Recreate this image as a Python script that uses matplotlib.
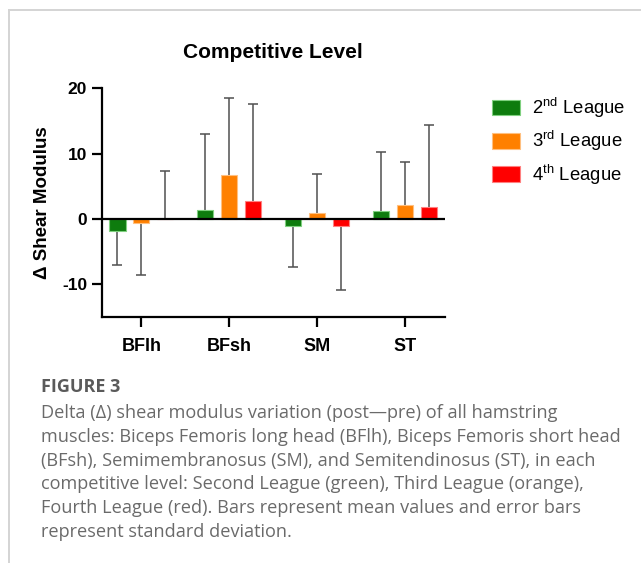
import numpy as np
import matplotlib
matplotlib.use('Agg')
import matplotlib.pyplot as plt
from matplotlib.lines import Line2D

plt.rcParams['font.family'] = ['Liberation Sans', 'DejaVu Sans']
plt.rcParams['mathtext.fontset'] = 'custom'
plt.rcParams['mathtext.rm'] = 'Liberation Sans'
plt.rcParams['axes.unicode_minus'] = False

muscles = ['BFlh', 'BFsh', 'SM', 'ST']
leagues = [r'2$^{\mathrm{nd}}$ League', r'3$^{\mathrm{rd}}$ League', r'4$^{\mathrm{th}}$ League']
colors = ['#0e7c0e', '#ff8000', '#ff0000']
edges = ['#7fd07f', '#ffc080', '#ff8080']

# mean delta shear modulus per muscle, one list per league
mean_2nd = [-1.8, 1.4, -1.0, 1.2]
mean_3rd = [-0.6, 6.8, 0.9, 2.2]
mean_4th = [0.05, 2.8, -1.0, 1.9]
# standard deviations
sd_2nd = [5.2, 11.6, 6.4, 9.0]
sd_3rd = [7.9, 11.7, 6.0, 6.5]
sd_4th = [7.25, 14.8, 9.8, 12.5]

means = [mean_2nd, mean_3rd, mean_4th]
sds = [sd_2nd, sd_3rd, sd_4th]

caption = [
    "Delta (\u0394) shear modulus variation (post\u2014pre) of all hamstring",
    "muscles: Biceps Femoris long head (BFlh), Biceps Femoris short head",
    "(BFsh), Semimembranosus (SM), and Semitendinosus (ST), in each",
    "competitive level: Second League (green), Third League (orange),",
    "Fourth League (red). Bars represent mean values and error bars",
    "represent standard deviation.",
]

fig = plt.figure(figsize=(6.41, 5.63), dpi=100)
ax = fig.add_axes([0.1587, 0.437, 0.5355, 0.406])

x = np.arange(len(muscles))
width = 0.185
offsets = [-0.272, 0.0, 0.272]
for i in range(3):
    m = np.array(means[i])
    s = np.array(sds[i])
    ends = m + np.sign(m) * s
    ax.bar(x + offsets[i], m, width, color=colors[i], edgecolor=edges[i],
           lw=0.8, label=leagues[i], zorder=3)
    # one-sided error bars (away from zero)
    ax.vlines(x + offsets[i], m, ends, color='#505050', lw=1.1, zorder=2)
    ax.plot(x + offsets[i], ends, ls='none', marker='_', ms=7, mew=1.1,
            color='#505050', zorder=2)

ax.axhline(0, color='black', lw=1.6, zorder=4)
ax.set_xlim(-0.45, 3.455)
ax.set_ylim(-15, 20)
ax.set_yticks([-10, 0, 10, 20])
ax.set_xticks(x)
ax.set_xticklabels(muscles, fontsize=13, fontweight='bold')
for t in ax.get_yticklabels():
    t.set_fontweight('bold')
    t.set_fontsize(12.5)
ax.spines['top'].set_visible(False)
ax.spines['right'].set_visible(False)
ax.spines['left'].set_bounds(-15, 20)
for sp in ['left', 'bottom']:
    ax.spines[sp].set_linewidth(1.6)
ax.tick_params(axis='both', width=1.6, length=7)
ax.tick_params(axis='x', pad=8)
ax.set_ylabel('\u0394 Shear Modulus', fontsize=13.5, fontweight='bold', labelpad=8)
ax.set_title('Competitive Level', fontsize=15, fontweight='bold', pad=22)

ax.legend(loc='upper left', bbox_to_anchor=(1.115, 1.0), frameon=False,
          fontsize=13.3, handlelength=1.5, handleheight=0.92, handletextpad=0.65,
          labelspacing=0.5, borderaxespad=0)

# figure frame
fig.add_artist(Line2D([9 / 641, 1], [1 - 10 / 563] * 2, color='#d4d4d4', lw=1.4))
fig.add_artist(Line2D([9 / 641] * 2, [0, 1 - 10 / 563], color='#d4d4d4', lw=1.4))

fig.text(41 / 641, 1 - 392 / 563, 'FIGURE 3', fontsize=13, fontweight='bold',
         color='#5a5a5a', family='Open Sans', va='baseline')
for k, line in enumerate(caption):
    fig.text(41 / 641, 1 - (418 + 23.8 * k) / 563, line, fontsize=13.1,
             color='#6a6a6a', family='Open Sans', va='baseline')

fig.savefig('out.png', dpi=100)
